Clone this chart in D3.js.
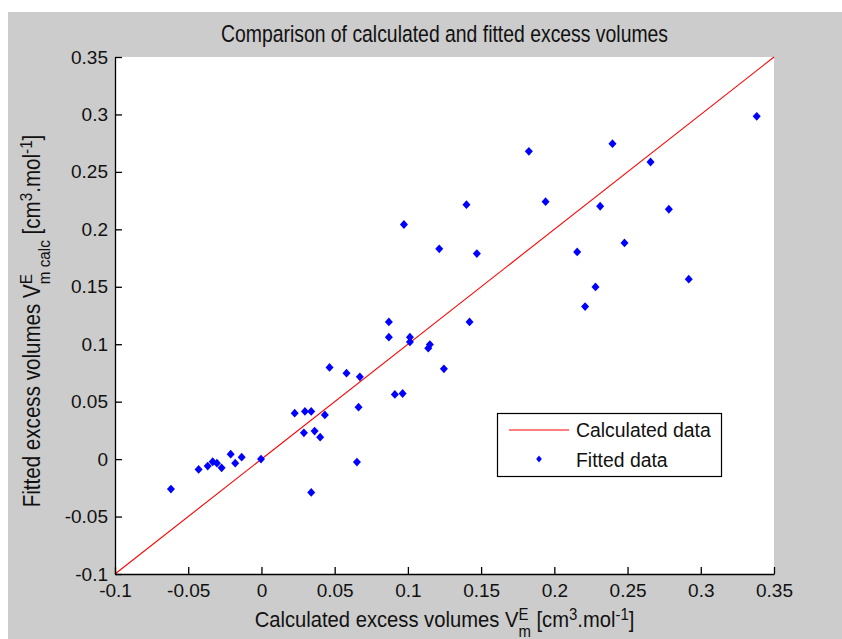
<!DOCTYPE html>
<html>
<head>
<meta charset="utf-8">
<script src="https://cdn.jsdelivr.net/npm/d3@7"></script>
<style>
  html, body { margin: 0; padding: 0; background: #ffffff; }
  svg { display: block; }
  text { font-family: "Liberation Sans", Arial, sans-serif; fill: #111; }
</style>
</head>
<body>
<svg id="chart" width="842" height="639"></svg>
<script>
// ---- data ----
const titleText = "Comparison of calculated and fitted excess volumes";
const xTicks = [-0.1, -0.05, 0, 0.05, 0.1, 0.15, 0.2, 0.25, 0.3, 0.35];
const yTicks = [-0.1, -0.05, 0, 0.05, 0.1, 0.15, 0.2, 0.25, 0.3, 0.35];
const xTickLabels = ["-0.1", "-0.05", "0", "0.05", "0.1", "0.15", "0.2", "0.25", "0.3", "0.35"];
const yTickLabels = ["-0.1", "-0.05", "0", "0.05", "0.1", "0.15", "0.2", "0.25", "0.3", "0.35"];
const calcLineX = [-0.1, 0.35];
const calcLineY = [-0.1, 0.35];
const fittedX = [
  -0.0618, -0.0429, -0.0367, -0.0333, -0.0304, -0.0272, -0.0210, -0.0179, -0.0135, -0.0003,
  0.0227, 0.0290, 0.0297, 0.0340, 0.0340, 0.0363, 0.0401, 0.0433, 0.0465, 0.0581,
  0.0672, 0.0663, 0.0652,
  0.3382, 0.1826, 0.2397, 0.2657, 0.1400, 0.1940, 0.2313, 0.2782, 0.0973, 0.1214,
  0.1471, 0.2156, 0.2479, 0.2918, 0.2281, 0.2210, 0.0870, 0.1421, 0.0870, 0.1014,
  0.1014, 0.1150, 0.1139, 0.1246, 0.0911, 0.0964
];
const fittedY = [
  -0.0261, -0.0090, -0.0061, -0.0023, -0.0035, -0.0076, 0.0043, -0.0035, 0.0017, 0.0000,
  0.0400, 0.0229, 0.0415, 0.0415, -0.0290, 0.0244, 0.0191, 0.0385, 0.0798, 0.0748,
  0.0716, 0.0452, -0.0026,
  0.2984, 0.2679, 0.2746, 0.2586, 0.2215, 0.2241, 0.2201, 0.2175, 0.2042, 0.1830,
  0.1789, 0.1803, 0.1882, 0.1566, 0.1499, 0.1328, 0.1194, 0.1194, 0.1061, 0.1061,
  0.1020, 0.0997, 0.0966, 0.0786, 0.0563, 0.0571
];
const legendLabels = ["Calculated data", "Fitted data"];

// ---- layout ----
const W = 842, H = 639;
const plot = { left: 115, right: 774, top: 57, bottom: 574 };
const svg = d3.select("#chart");

svg.append("rect").attr("x", 0).attr("y", 0).attr("width", W).attr("height", H).attr("fill", "#ffffff");
svg.append("rect").attr("x", 8).attr("y", 12).attr("width", W - 8).attr("height", H - 12).attr("fill", "#cccccc");
svg.append("rect").attr("x", plot.left).attr("y", plot.top)
  .attr("width", plot.right - plot.left).attr("height", plot.bottom - plot.top).attr("fill", "#ffffff");

const x = d3.scaleLinear().domain([-0.1, 0.35]).range([plot.left, plot.right]);
const y = d3.scaleLinear().domain([-0.1, 0.35]).range([plot.bottom, plot.top]);

// red line
const lineData = calcLineX.map((v, i) => [v, calcLineY[i]]);
svg.append("path")
  .datum(lineData)
  .attr("d", d3.line().x(d => x(d[0])).y(d => y(d[1])))
  .attr("fill", "none").attr("stroke", "#ff0000").attr("stroke-width", 1.1);

// diamond markers
function diamond(hw, hh) {
  return `M0,${-hh}L${hw},0L0,${hh}L${-hw},0Z`;
}
svg.append("g").selectAll("path")
  .data(fittedX.map((v, i) => [v, fittedY[i]]))
  .join("path")
  .attr("d", diamond(4, 4.4))
  .attr("transform", d => `translate(${x(d[0])},${y(d[1])})`)
  .attr("fill", "#0000ff");

// axes
const xAxis = d3.axisBottom(x).tickValues(xTicks)
  .tickFormat((d, i) => xTickLabels[i]).tickSizeInner(-7).tickSizeOuter(0).tickPadding(10);
const yAxis = d3.axisLeft(y).tickValues(yTicks)
  .tickFormat((d, i) => yTickLabels[i]).tickSizeInner(-7).tickSizeOuter(0).tickPadding(7);

const gx = svg.append("g").attr("transform", `translate(0,${plot.bottom})`).call(xAxis);
const gy = svg.append("g").attr("transform", `translate(${plot.left},0)`).call(yAxis);
[gx, gy].forEach(g => {
  g.selectAll("path.domain").attr("stroke", "#000").attr("stroke-width", 1.3);
  g.selectAll(".tick line").attr("stroke", "#000").attr("stroke-width", 1.3);
  g.selectAll(".tick text").attr("font-size", 19).attr("fill", "#111")
    .style("font-family", '"Liberation Sans", Arial, sans-serif');
});

// title
svg.append("text")
  .attr("transform", `translate(${(plot.left + plot.right) / 2},42) scale(1,1.2)`)
  .attr("text-anchor", "middle").attr("font-size", 19.4)
  .text(titleText);

// rich label helper
function richLabel(parent, pieces, fontSize) {
  const t = parent.append("text").attr("font-size", fontSize);
  let cur = 0;
  let lastSupWidth = 0;
  pieces.forEach(p => {
    const ts = t.append("tspan").text(p.t);
    let target = 0, size = fontSize;
    if (p.k === "sup") { target = -0.33 * fontSize; size = fontSize * 0.74; }
    if (p.k === "sub" || p.k === "stack") { target = 0.42 * fontSize; size = fontSize * 0.74; }
    ts.attr("font-size", size).attr("dy", target - cur);
    if (p.k === "stack") ts.attr("dx", -lastSupWidth);
    cur = target;
    if (p.k === "sup") lastSupWidth = ts.node().getComputedTextLength();
  });
  return t;
}

const xLabel = svg.append("g").attr("transform", `translate(${(plot.left + plot.right) / 2},627) scale(1,1.12)`);
const xt = richLabel(xLabel, [
  { t: "Calculated excess volumes V", k: "n" },
  { t: "E", k: "sup" },
  { t: "m", k: "stack" },
  { t: " [cm", k: "n" },
  { t: "3", k: "sup" },
  { t: ".mol", k: "n" },
  { t: "-1", k: "sup" },
  { t: "]", k: "n" }
], 20.2);
{
  const bb = xt.node().getBBox();
  xt.attr("x", -bb.width / 2);
}

const yLabel = svg.append("g").attr("transform", `translate(40,321) rotate(-90) scale(1,1.12)`);
const yt = richLabel(yLabel, [
  { t: "Fitted excess volumes V", k: "n" },
  { t: "E", k: "sup" },
  { t: "m calc", k: "stack" },
  { t: " [cm", k: "n" },
  { t: "3", k: "sup" },
  { t: ".mol", k: "n" },
  { t: "-1", k: "sup" },
  { t: "]", k: "n" }
], 20.6);
{
  const bb = yt.node().getBBox();
  yt.attr("x", -bb.width / 2);
}

// legend
const lg = svg.append("g");
lg.append("rect").attr("x", 497.5).attr("y", 413.5).attr("width", 224).attr("height", 63)
  .attr("fill", "#ffffff").attr("stroke", "#000").attr("stroke-width", 1.2);
lg.append("line").attr("x1", 509).attr("x2", 569).attr("y1", 430).attr("y2", 430)
  .attr("stroke", "#ff0000").attr("stroke-width", 1.2);
lg.append("path").attr("d", diamond(2.8, 3.6)).attr("transform", "translate(539,459)").attr("fill", "#0000ff");
lg.selectAll("text.leg").data(legendLabels).join("text").attr("class", "leg")
  .attr("x", 576).attr("y", (d, i) => 437 + i * 29.5)
  .attr("font-size", 19.4).text(d => d);
</script>
</body>
</html>
